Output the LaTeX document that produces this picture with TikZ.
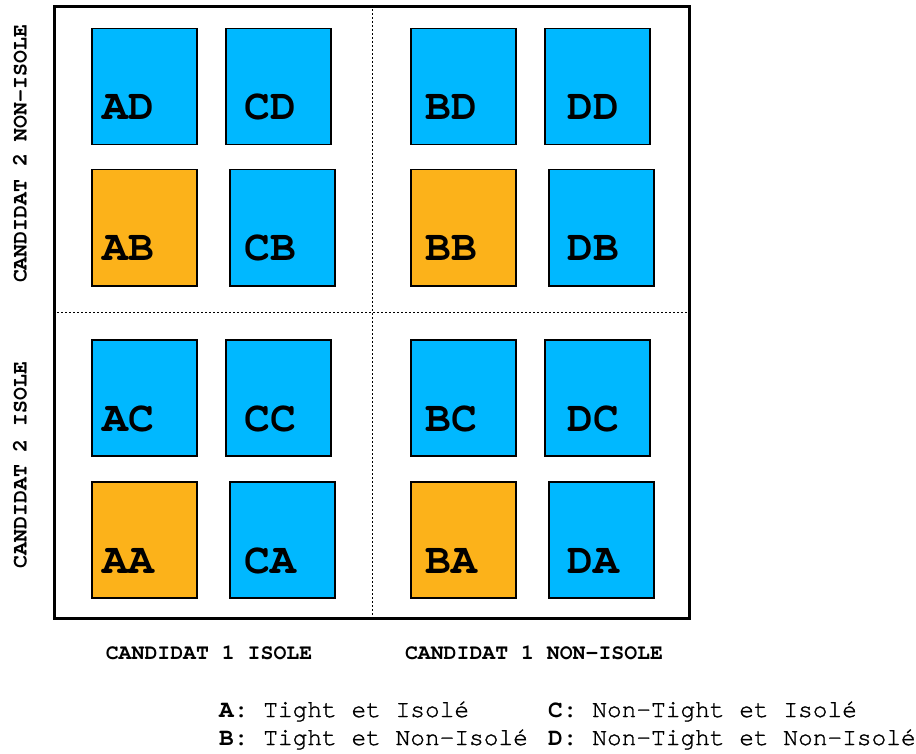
\documentclass[tikz,border=0pt]{standalone}
\usepackage{fontspec}
\setmonofont{texgyrecursor}[Extension=.otf, UprightFont=*-regular, BoldFont=*-bold]
\newfontfamily\legendfont{texgyrecursor}[Extension=.otf, UprightFont=*-regular, BoldFont=*-bold, UprightFeatures={FakeBold=1.3}]
\usetikzlibrary{positioning}

\definecolor{cellblue}{RGB}{0,184,255}
\definecolor{cellorange}{RGB}{252,178,26}

\tikzset{
	cell/.style={draw=black, line width=1.5pt, minimum width=105pt, minimum height=116pt, inner sep=0pt, anchor=north west},
	tag/.style={font=\fontsize{43}{43}\selectfont\ttfamily\bfseries, inner sep=0pt, anchor=base west},
	axis/.style={font=\fontsize{21.5}{21.5}\selectfont\ttfamily\bfseries, inner sep=0pt},
	legend/.style={font=\fontsize{24.5}{24.5}\selectfont\legendfont, inner sep=0pt, anchor=base west},
	divider/.style={line width=0.9pt, dash pattern=on 2pt off 2pt}
}

\begin{document}
\begin{tikzpicture}[x=1pt, y=-1pt]
	\useasboundingbox (0,0) rectangle (916,754);
	% ---- frame and quadrant dividers ----
	\node[draw=black, line width=3pt, minimum width=635pt, minimum height=612pt, inner sep=0pt, anchor=north west] (frame) at (53,5) {};
	\draw[divider] (frame.north) -- (frame.south);
	\draw[divider] (frame.west) -- (frame.east);
	% ---- cells: name/box x/text x/box y/colour ----
	\foreach \n/\x/\tx/\y/\f in {AD/91/102/28/cellblue, CD/225/244/28/cellblue, BD/410/425/28/cellblue, DD/544/567/28/cellblue,
		AB/91/102/169/cellorange, CB/229/244/169/cellblue, BB/410/425/169/cellorange, DB/548/567/169/cellblue,
		AC/91/102/339/cellblue, CC/225/244/339/cellblue, BC/410/425/339/cellblue, DC/544/567/339/cellblue,
		AA/91/102/481/cellorange, CA/229/244/481/cellblue, BA/410/425/481/cellorange, DA/548/567/481/cellblue}{
		\node[cell, fill=\f] (\n) at (\x,\y) {};
		\node[tag] (t\n) at (\tx,{\y+92}) {\n};
	}
	% ---- axis labels ----
	\node[axis, anchor=base] (c1iso) at (209,659) {CANDIDAT 1 ISOLE};
	\node[axis, anchor=base] (c1non) at (534,659) {CANDIDAT 1 NON-ISOLE};
	\node[axis, rotate=90] (c2iso) at (20,465) {CANDIDAT 2 ISOLE};
	\node[axis, rotate=90] (c2non) at (20,154) {CANDIDAT 2 NON-ISOLE};
	% ---- legend ----
	\node[legend] (legA) at (219,717) {\textbf{A:} Tight et Isolé};
	\node[legend] (legB) at (219,745) {\textbf{B:} Tight et Non-Isolé};
	\node[legend] (legC) at (548,717) {\textbf{C:} Non-Tight et Isolé};
	\node[legend] (legD) at (548,745) {\textbf{D:} Non-Tight et Non-Isolé};
\end{tikzpicture}
\end{document}
